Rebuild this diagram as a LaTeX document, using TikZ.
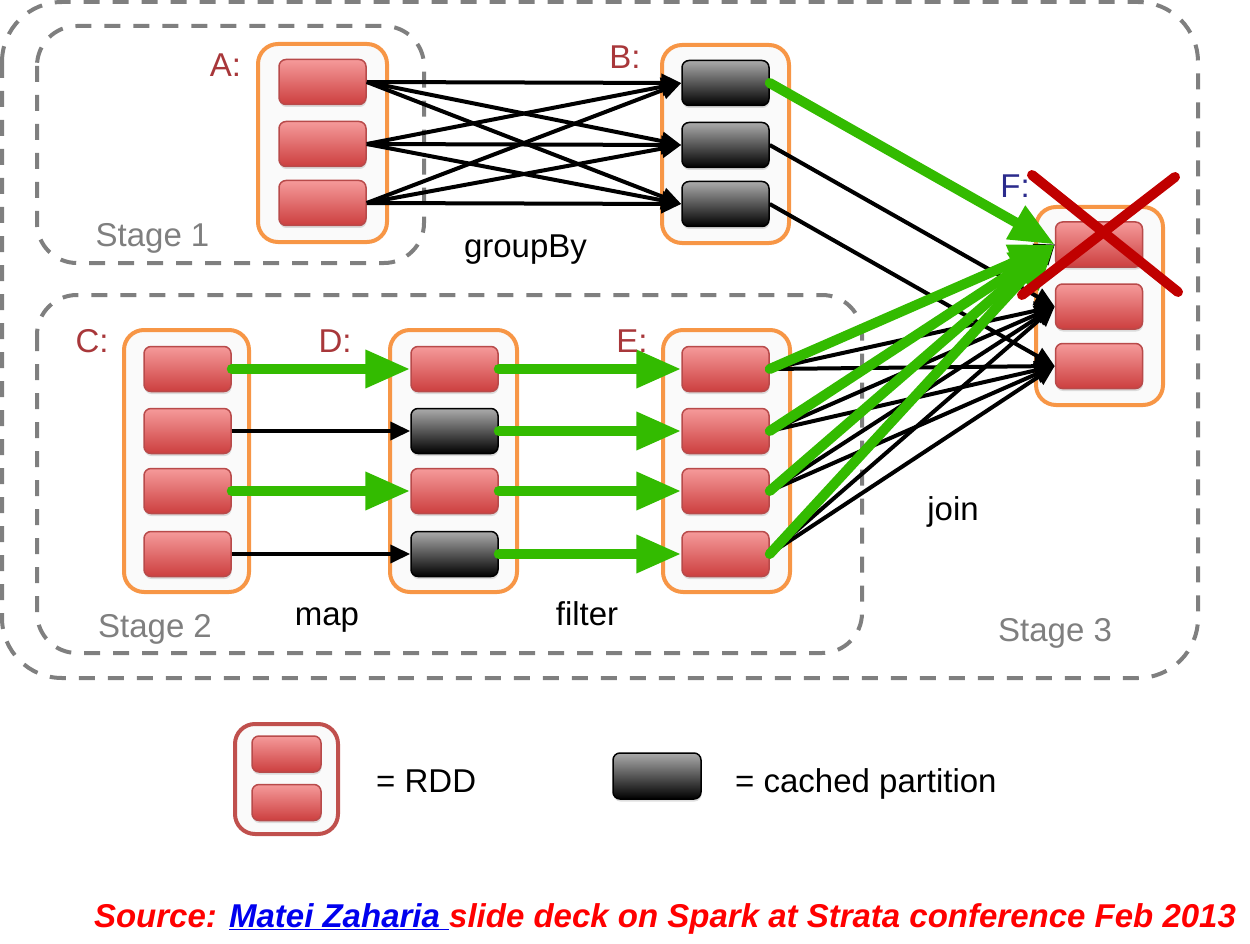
\documentclass[tikz,border=0pt]{standalone}
\usepackage{fontspec}
\setmainfont{Liberation Sans}
\usetikzlibrary{arrows.meta,shadows}
\definecolor{orng}{HTML}{F79646}
\definecolor{lbl}{HTML}{A8373A}
\definecolor{fblue}{HTML}{2B2B8C}
\definecolor{grn}{HTML}{33BB00}
\definecolor{stagegray}{HTML}{7F7F7F}
\definecolor{redtop}{HTML}{F59A9A}
\definecolor{redbot}{HTML}{CC3F3F}
\definecolor{redborder}{HTML}{B84A4A}
\definecolor{xred}{HTML}{C00000}
\definecolor{legborder}{HTML}{C0504D}
\definecolor{srcred}{HTML}{FF0000}
\definecolor{srcblue}{HTML}{0000EE}
\tikzset{
 stagebox/.style={draw=stagegray, line width=4pt, dash pattern=on 16pt off 13pt},
 rddbox/.style={draw=orng, fill=black!2, line width=4pt, rounded corners=20pt},
 part/.style={minimum width=87pt, minimum height=45pt, inner sep=0pt, rounded corners=7pt, line width=1.5pt,
   drop shadow={shadow xshift=0.5pt, shadow yshift=-2.5pt, opacity=0.25}},
 redpart/.style={part, draw=redborder, top color=redtop, bottom color=redbot},
 cachepart/.style={part, draw=black, top color=black!33, bottom color=black},
 blk/.style={draw=black, line width=4pt, -{Triangle[length=20pt,width=18pt]}},
 gr/.style={draw=grn, line width=10pt, line cap=round, -{Triangle[length=45pt,width=36pt]}},
 lab/.style={anchor=base, inner sep=0pt, font=\fontsize{33}{40}\selectfont},
 xline/.style={draw=xred, line width=10pt, line cap=round},
}
\begin{document}
\begin{tikzpicture}[x=1pt,y=-1pt]
\useasboundingbox (0,0) rectangle (1250,944);
% stages
\draw[stagebox, rounded corners=60pt] (2,2) rectangle (1198,678);
\draw[stagebox, rounded corners=40pt] (37,26) rectangle (424,263);
\draw[stagebox, rounded corners=40pt] (37,295) rectangle (862,653);
% RDD boxes
\draw[rddbox] (258,44) rectangle (387,242);
\draw[rddbox] (662,45) rectangle (789,243);
\draw[rddbox] (124,330) rectangle (249,592);
\draw[rddbox] (390,330) rectangle (517,592);
\draw[rddbox] (663,330) rectangle (790,592);
\draw[rddbox] (1036,207) rectangle (1163,405);
% partitions
\node[redpart] (a1) at (322.5,82) {};
\node[redpart] (a2) at (322.5,144) {};
\node[redpart] (a3) at (322.5,203) {};
\node[cachepart] (b1) at (725.5,83) {};
\node[cachepart] (b2) at (725.5,145) {};
\node[cachepart] (b3) at (725.5,204) {};
\node[redpart] (c1) at (187.5,369) {};
\node[redpart] (c2) at (187.5,431) {};
\node[redpart] (c3) at (187.5,491) {};
\node[redpart] (c4) at (187.5,554) {};
\node[redpart] (d1) at (454.5,369) {};
\node[cachepart] (d2) at (454.5,431) {};
\node[redpart] (d3) at (454.5,491) {};
\node[cachepart] (d4) at (454.5,554) {};
\node[redpart] (e1) at (725.5,369) {};
\node[redpart] (e2) at (725.5,431) {};
\node[redpart] (e3) at (725.5,491) {};
\node[redpart] (e4) at (725.5,554) {};
\node[redpart] (f1) at (1099,244.5) {};
\node[redpart] (f2) at (1099,306.5) {};
\node[redpart] (f3) at (1099,366) {};
% black connectors
\foreach \i in {1,2,3}{\foreach \j in {1,2,3}{\draw[blk] (a\i.east) -- (b\j.west);}}
\draw[blk] (b2.east) -- (f2.west);
\draw[blk] (b3.east) -- (f3.west);
\draw[blk] (c2.east) -- (d2.west);
\draw[blk] (c4.east) -- (d4.west);
\foreach \i in {1,2,3,4}{\foreach \j in {1,2,3}{\draw[blk] (e\i.east) -- (f\j.west);}}
% green connectors
\draw[gr] (c1.east) -- (d1.west);
\draw[gr] (c3.east) -- (d3.west);
\foreach \i in {1,2,3,4}{\draw[gr] (d\i.east) -- (e\i.west);}
\draw[gr] (b1.east) -- (f1.west);
\foreach \i in {1,2,3,4}{\draw[gr] (e\i.east) -- (f1.west);}
% labels
\node[lab, text=lbl] (la) at (225.5,77) {A:};
\node[lab, text=lbl] (lb) at (625,69) {B:};
\node[lab, text=lbl] (lc) at (92,352) {C:};
\node[lab, text=lbl] (ld) at (335,352) {D:};
\node[lab, text=lbl] (le) at (632,352) {E:};
\node[lab, text=fblue] (lf) at (1015,198) {F:};
\node[lab, text=stagegray] (s1) at (152.5,247) {Stage 1};
\node[lab, text=stagegray] (s2) at (155,637) {Stage 2};
\node[lab, text=stagegray] (s3) at (1055,641) {Stage 3};
\node[lab] (gb) at (525.5,257) {groupBy};
\node[lab] (mp) at (327,625) {map};
\node[lab] (fl) at (587,625) {filter};
\node[lab] (jn) at (953,520) {join};
% red cross
\coordinate (x1) at (1032,175);
\coordinate (x2) at (1178,292);
\coordinate (x3) at (1175,177);
\coordinate (x4) at (1022,295);
\draw[xline] (x1) -- (x2);
\draw[xline] (x3) -- (x4);
% legend
\draw[draw=legborder, fill=black!2, line width=4pt, rounded corners=20pt] (235,724) rectangle (338,834);
\node[redpart, minimum width=69pt, minimum height=36pt] (lr1) at (286.5,754) {};
\node[redpart, minimum width=69pt, minimum height=36pt] (lr2) at (286.5,802.5) {};
\node[lab, anchor=base west] (rddtxt) at (376,792) {= RDD};
\node[cachepart, minimum width=88pt, minimum height=46pt] (lcache) at (657,776) {};
\node[lab, anchor=base west] (cachetxt) at (735,792) {= cached partition};
% source
\node[anchor=base, inner sep=0pt, font=\fontsize{33}{40}\selectfont\bfseries\itshape, text=srcred] (src) at (665,927)
 {Source: \textcolor{srcblue}{\underline{Matei Zaharia\ }}slide deck on Spark at Strata conference Feb 2013};
\end{tikzpicture}
\end{document}
